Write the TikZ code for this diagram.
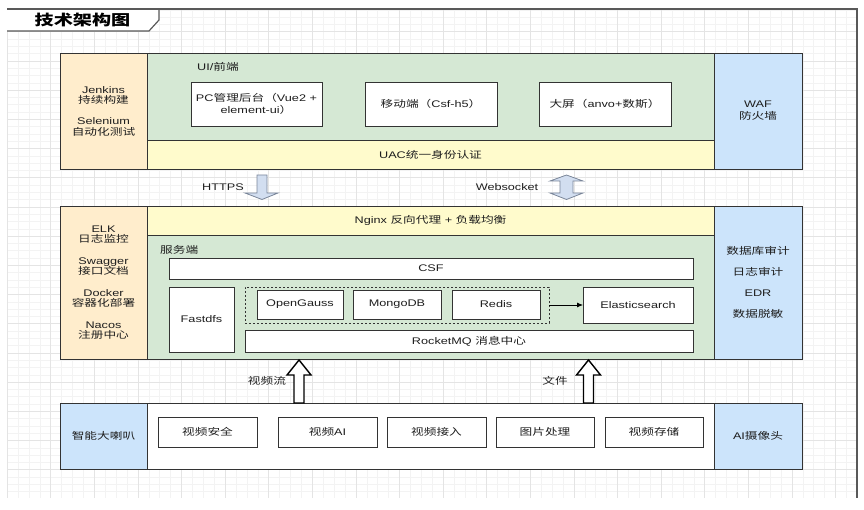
\documentclass[tikz,border=0pt]{standalone}
\usepackage{fontspec}
\setmainfont[FakeStretch=1.32]{Liberation Sans}
\newfontfamily\cjk[FakeStretch=1.32]{Noto Sans CJK SC}
\usetikzlibrary{arrows.meta}
\definecolor{peach}{HTML}{FFEDCC}
\definecolor{lyellow}{HTML}{FFFBCC}
\definecolor{lgreen}{HTML}{D5E8D4}
\definecolor{lblue}{HTML}{CCE4FB}
\definecolor{linec}{HTML}{333333}
\definecolor{txtc}{HTML}{1E1E1E}
\definecolor{gridmin}{HTML}{F3F3F3}
\definecolor{gridmaj}{HTML}{E4E4E4}
\definecolor{arrfill}{HTML}{D2DEF0}
\definecolor{arrline}{HTML}{7A8699}
\newcommand\fs{\fontsize{9.6}{10.5}\selectfont}
\tikzset{
  box/.style={draw=linec, line width=0.9pt, inner sep=0pt, outer sep=0pt,
    anchor=north west, align=center, font=\fs, text=txtc},
  lbl/.style={inner sep=0pt, font=\fs, text=txtc, align=center},
  blockarrow/.style={fill=arrfill, draw=arrline, line width=0.8pt, line join=miter},
  whitearrow/.style={fill=white, draw=black, line width=1.4pt, line join=miter},
}
\begin{document}
\begin{tikzpicture}[x=1pt,y=-1pt]
\useasboundingbox (0,0) rectangle (864,510);
% grid
\begin{scope}
\clip (7,9) rectangle (857,498);
\foreach \i in {0,...,79} {\draw[gridmin, line width=0.5pt] ({7.1+10.9*\i},9) -- ({7.1+10.9*\i},498);}
\foreach \i in {0,...,68} {\draw[gridmin, line width=0.5pt] (7,{9.8+7.3*\i}) -- (857,{9.8+7.3*\i});}
\foreach \i in {0,...,20} {\draw[gridmaj, line width=0.7pt] ({7.1+43.6*\i},9) -- ({7.1+43.6*\i},498);}
\foreach \i in {-1,...,17} {\draw[gridmaj, line width=0.7pt] (7,{31.7+29.2*\i}) -- (857,{31.7+29.2*\i});}
\end{scope}
% frame
\draw[fill=white, draw=none] (7,9) -- (159,9) -- (159,20) -- (149,31) -- (7,31) -- cycle;
\draw[draw=black!65, line width=1.2pt] (7,9) -- (857,9) -- (857,498);
\draw[draw=black!65, line width=1.2pt] (7,31) -- (149,31) -- (159,20) -- (159,9);
\node[inner sep=0pt, font=\fontsize{14.5}{16}\selectfont\cjk\bfseries] (title) at (82.5,20) {技术架构图};

% ---------- top section ----------
\node[box, fill=peach, minimum width=87pt, minimum height=116pt] (jen) at (60,53)
  {Jenkins\\{\cjk 持续构建}\\[10.5pt]Selenium\\{\cjk 自动化测试}};
\node[box, fill=lgreen, minimum width=567pt, minimum height=87pt] (ui) at (147,53) {};
\node[box, fill=lyellow, minimum width=567pt, minimum height=29pt] (uac) at (147,140) {UAC{\cjk 统一身份认证}};
\node[box, fill=lblue, minimum width=88pt, minimum height=116pt, font=\fontsize{9.6}{12}\selectfont] (waf) at (714,53) {WAF\\{\cjk 防火墙}};
\node[lbl, anchor=west] (uilbl) at (197,67) {UI/{\cjk 前端}};
\node[box, fill=white, minimum width=131pt, minimum height=44pt, font=\fontsize{9.6}{12}\selectfont] (pc) at (191,82)
  {PC{\cjk 管理后台（}Vue2 +\\element-ui{\cjk ）}};
\node[box, fill=white, minimum width=132pt, minimum height=44pt] (mob) at (365,82) {{\cjk 移动端（}Csf-h5{\cjk ）}};
\node[box, fill=white, minimum width=132pt, minimum height=44pt] (big) at (539,82) {{\cjk 大屏（}anvo+{\cjk 数斯）}};

% ---------- middle section ----------
\node[box, fill=peach, minimum width=87pt, minimum height=153pt, font=\fontsize{9.6}{10.3}\selectfont] (ops) at (60,206)
  {ELK\\{\cjk 日志监控}\\[11.5pt]Swagger\\{\cjk 接口文档}\\[11.5pt]Docker\\{\cjk 容器化部署}\\[11.5pt]Nacos\\{\cjk 注册中心}};
\node[box, fill=lyellow, minimum width=567pt, minimum height=29pt] (nginx) at (147,206) {Nginx {\cjk 反向代理} + {\cjk 负载均衡}};
\node[box, fill=lgreen, minimum width=567pt, minimum height=124pt] (srv) at (147,235) {};
\node[box, fill=lblue, minimum width=88pt, minimum height=153pt] (sec) at (714,206)
  {{\cjk 数据库审计}\\[10.5pt]{\cjk 日志审计}\\[10.5pt]EDR\\[10.5pt]{\cjk 数据脱敏}};
\node[lbl, anchor=west] (srvlbl) at (160,250) {\cjk 服务端};
\node[box, fill=white, minimum width=524pt, minimum height=21pt] (csf) at (169,258) {CSF};
\node[box, fill=white, minimum width=65pt, minimum height=65pt] (fdfs) at (169,287) {Fastdfs};
\node[box, dash pattern=on 2pt off 2pt, minimum width=304pt, minimum height=36pt] (dbg) at (245,287) {};
\node[box, fill=white, minimum width=86pt, minimum height=29pt] (og) at (257,290) {OpenGauss};
\node[box, fill=white, minimum width=88pt, minimum height=29pt] (mongo) at (353,290) {MongoDB};
\node[box, fill=white, minimum width=88pt, minimum height=29pt] (redis) at (452,290) {Redis};
\node[box, fill=white, minimum width=110pt, minimum height=36pt] (es) at (583,287) {Elasticsearch};
\node[box, fill=white, minimum width=448pt, minimum height=22pt] (mq) at (245,330) {RocketMQ {\cjk 消息中心}};
\draw[-{Latex[length=6pt,width=5pt]}, line width=0.8pt, black] (dbg.east) -- (es.west);

% ---------- connectors between sections ----------
\node[lbl] (https) at (223,187) {HTTPS};
\draw[blockarrow] (257,175) -- (267,175) -- (267,193) -- (278,193) -- (262,199.5) -- (245,193) -- (257,193) -- cycle;
\node[lbl] (ws) at (507,187) {Websocket};
\draw[blockarrow] (566.5,175) -- (583,181) -- (573,181) -- (573,193) -- (583,193) -- (566.5,199.5)
  -- (550,193) -- (560,193) -- (560,181) -- (550,181) -- cycle;

% ---------- bottom section ----------
\node[box, fill=lblue, minimum width=87pt, minimum height=66pt] (spk) at (60,403) {\cjk 智能大喇叭};
\node[box, fill=white, minimum width=567pt, minimum height=66pt] (apps) at (147,403) {};
\node[box, fill=lblue, minimum width=88pt, minimum height=66pt] (cam) at (714,403) {AI{\cjk 摄像头}};
\node[box, fill=white, minimum width=99pt, minimum height=30pt] (b1) at (158,417) {\cjk 视频安全};
\node[box, fill=white, minimum width=99pt, minimum height=30pt] (b2) at (278,417) {{\cjk 视频}AI};
\node[box, fill=white, minimum width=99pt, minimum height=30pt] (b3) at (387,417) {\cjk 视频接入};
\node[box, fill=white, minimum width=98pt, minimum height=30pt] (b4) at (496,417) {\cjk 图片处理};
\node[box, fill=white, minimum width=98pt, minimum height=30pt] (b5) at (605,417) {\cjk 视频存储};

\draw[whitearrow] (294,403) -- (294,375) -- (287,375) -- (299,360) -- (311,375) -- (304,375) -- (304,403) -- cycle;
\draw[whitearrow] (583.5,403) -- (583.5,375) -- (576.5,375) -- (588.5,360) -- (600.5,375) -- (593.5,375) -- (593.5,403) -- cycle;
\node[lbl] (vstream) at (267,381) {\cjk 视频流};
\node[lbl] (file) at (555,381) {\cjk 文件};
\end{tikzpicture}
\end{document}
